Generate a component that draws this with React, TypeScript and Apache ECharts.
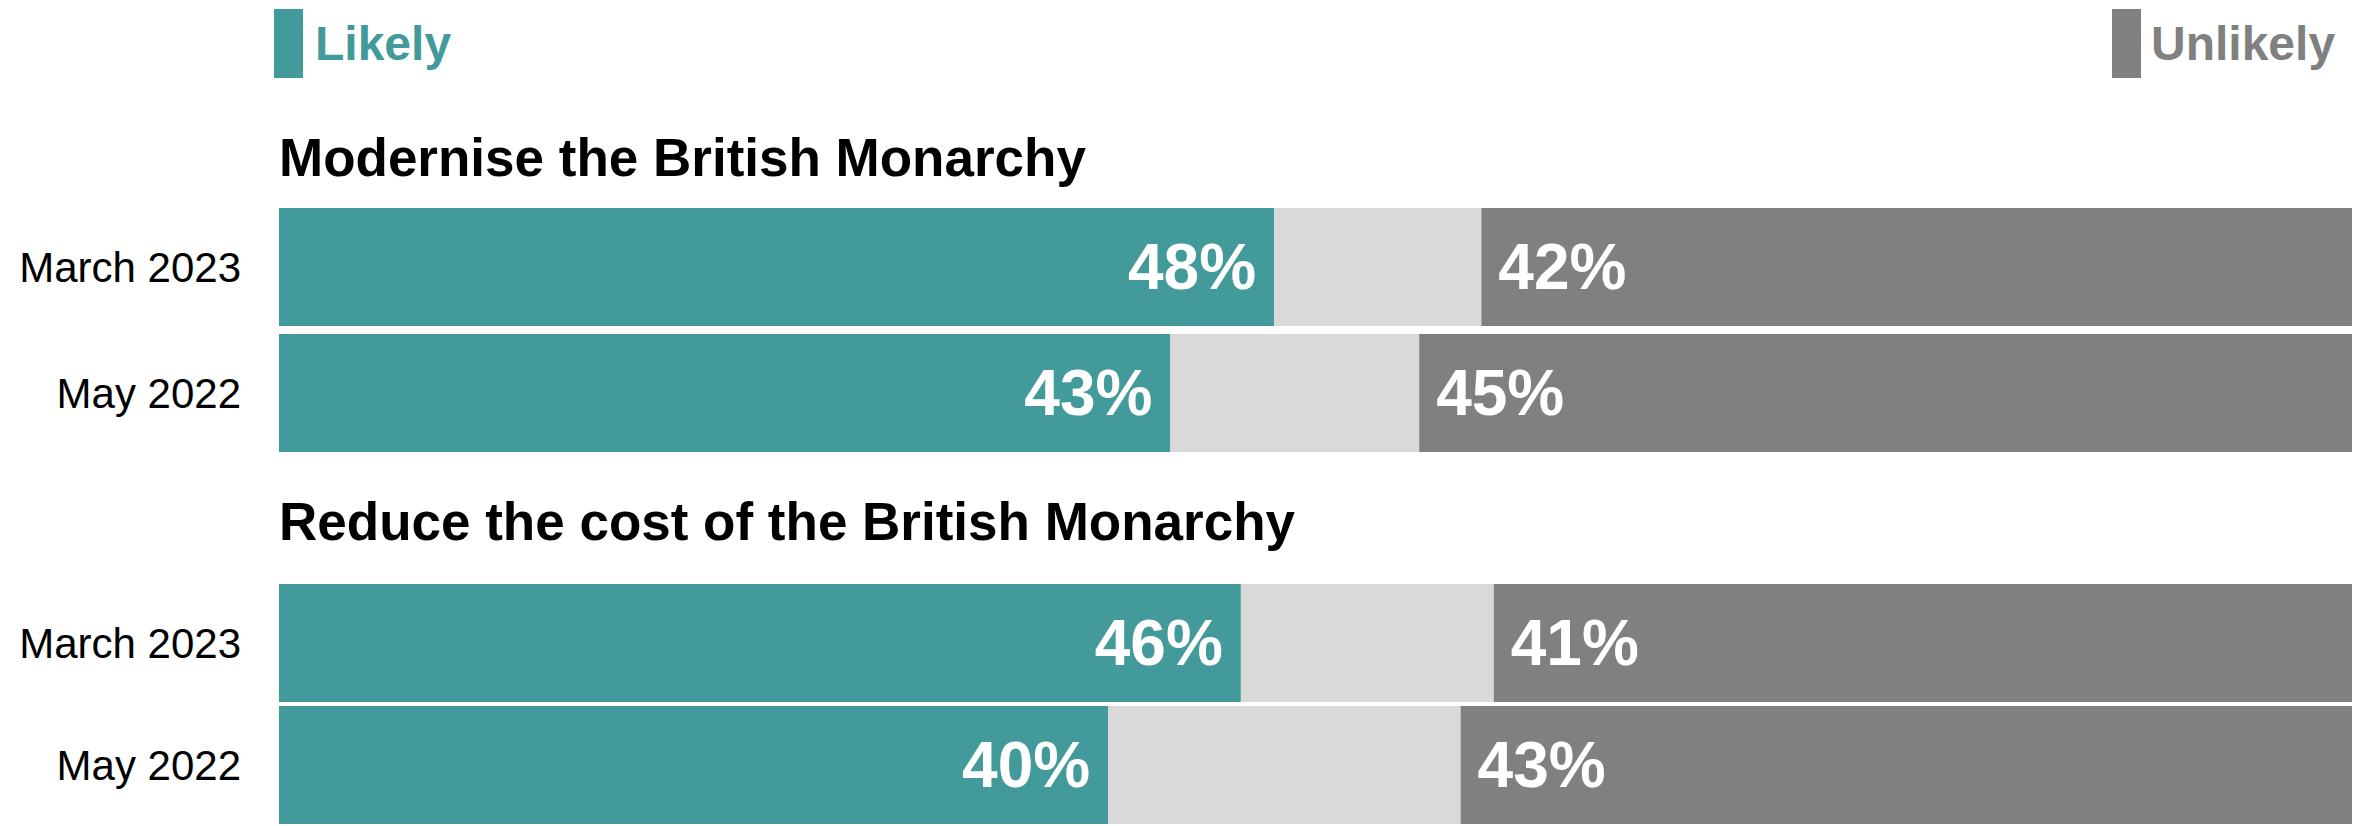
import React, { useEffect, useRef } from "react";
import * as echarts from "echarts";

const categories = ["March 2023", "May 2022"];
const panelTitles = ["Modernise the British Monarchy", "Reduce the cost of the British Monarchy"];
const modLikely = [48, 43];
const modUnlikely = [42, 45];
const costLikely = [46.4, 40];
const costUnlikely = [41.4, 43];

const TEAL = "#439a9a";
const LIGHT = "#d9d9d9";
const DARK = "#808080";
const FONT = "'Liberation Sans', Arial, Helvetica, sans-serif";

export default function App() {
  const ref = useRef<HTMLDivElement>(null);
  useEffect(() => {
    document.body.style.margin = "0";
    if (!ref.current) return;
    const chart = echarts.init(ref.current, undefined, { renderer: "svg" });
    const panels = [
      { likely: modLikely, unlikely: modUnlikely },
      { likely: costLikely, unlikely: costUnlikely },
    ];
    const gridTops = [204, 582];
    const titleTops = [131, 495];
    const series: any[] = [];
    panels.forEach((p, i) => {
      const neither = p.likely.map((v, k) => +(100 - v - p.unlikely[k]).toFixed(2));
      const common = {
        type: "bar",
        stack: "s" + i,
        xAxisIndex: i,
        yAxisIndex: i,
        barWidth: 118,
        silent: true,
      };
      series.push({
        ...common,
        name: "Likely",
        data: p.likely,
        itemStyle: { color: TEAL },
        label: {
          show: true,
          position: "insideRight",
          distance: 18,
          formatter: (d: any) => Math.round(d.value) + "%",
          color: "#fff",
          fontWeight: "bold",
          fontSize: 64,
          fontFamily: FONT,
        },
      });
      series.push({
        ...common,
        name: "Neither",
        data: neither,
        itemStyle: { color: LIGHT },
      });
      series.push({
        ...common,
        name: "Unlikely",
        data: p.unlikely,
        itemStyle: { color: DARK },
        label: {
          show: true,
          position: "insideLeft",
          distance: 17,
          formatter: (d: any) => Math.round(d.value) + "%",
          color: "#fff",
          fontWeight: "bold",
          fontSize: 64,
          fontFamily: FONT,
        },
      });
    });
    const legendCommon = {
      orient: "horizontal",
      top: 9,
      itemWidth: 29,
      itemHeight: 69,
      itemGap: 0,
      icon: "rect",
      selectedMode: false,
      padding: 0,
    };
    chart.setOption({
      animation: false,
      title: panelTitles.map((t, i) => ({
        text: t,
        left: 279,
        top: titleTops[i],
        padding: 0,
        textStyle: {
          fontFamily: FONT,
          fontWeight: "bold",
          fontSize: 53,
          lineHeight: 53,
          color: "#000",
        },
      })),
      legend: [
        {
          ...legendCommon,
          left: 274,
          data: ["Likely"],
          textStyle: { color: TEAL, fontWeight: "bold", fontSize: 48, fontFamily: FONT, padding: [0, 0, 0, 7] },
        },
        {
          ...legendCommon,
          left: 2112,
          data: ["Unlikely"],
          textStyle: { color: DARK, fontWeight: "bold", fontSize: 48, fontFamily: FONT, padding: [0, 0, 0, 5] },
        },
      ],
      grid: gridTops.map((t) => ({ left: 279, right: 12, top: t, height: 252 })),
      xAxis: gridTops.map((_, i) => ({
        type: "value",
        gridIndex: i,
        min: 0,
        max: 100,
        show: false,
      })),
      yAxis: gridTops.map((_, i) => ({
        type: "category",
        gridIndex: i,
        data: categories,
        inverse: true,
        axisLine: { show: false },
        axisTick: { show: false },
        splitLine: { show: false },
        axisLabel: {
          color: "#000",
          fontSize: 42,
          fontFamily: FONT,
          margin: 38,
        },
      })),
      series,
    });
    return () => chart.dispose();
  }, []);
  return (
    <div
      ref={ref}
      style={{ position: "absolute", left: 0, top: 0, width: 2364, height: 826, background: "#fff" }}
    />
  );
}
